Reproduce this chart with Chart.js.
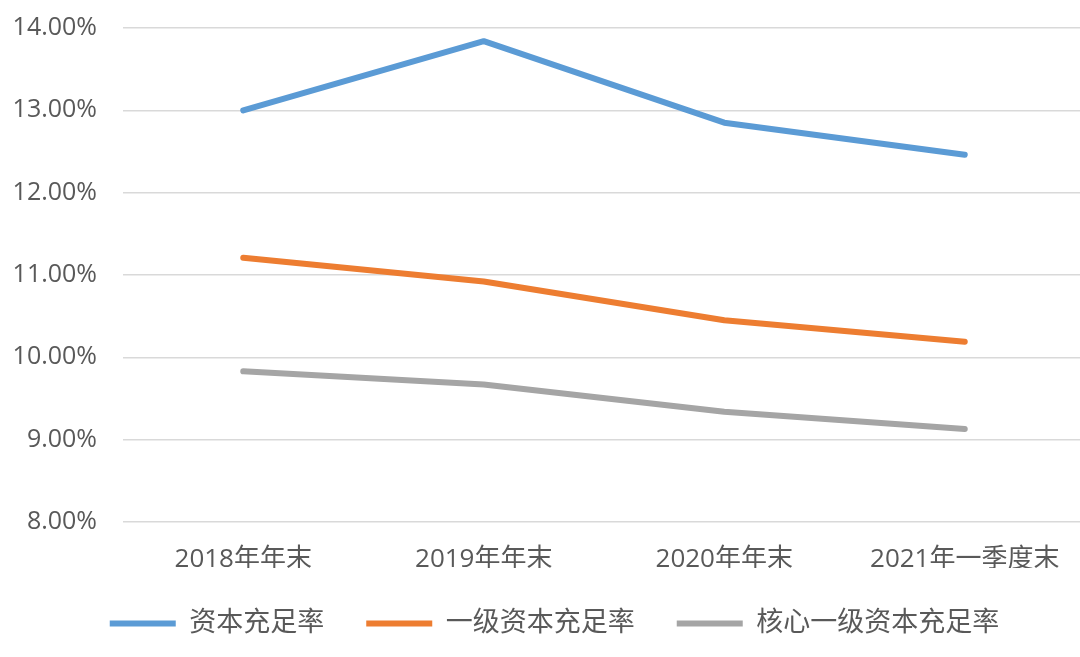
<!DOCTYPE html>
<html>
<head>
<meta charset="utf-8">
<script src="https://cdn.jsdelivr.net/npm/chart.js@4/dist/chart.umd.min.js"></script>
<style>
  html, body { margin: 0; padding: 0; background: #fff; overflow: hidden; }
</style>
</head>
<body>
<canvas id="myChart" width="1088" height="657"></canvas>
<script>
const categories = ['2018年年末', '2019年年末', '2020年年末', '2021年一季度末'];
const seriesNames = ['资本充足率', '一级资本充足率', '核心一级资本充足率'];
const capitalRatio = [13.00, 13.84, 12.85, 12.46];
const tier1Ratio = [11.21, 10.92, 10.45, 10.19];
const coreTier1Ratio = [9.83, 9.67, 9.34, 9.13];
const seriesColors = ['#5B9BD5', '#ED7D31', '#A5A5A5'];

const fontFamily = "'Open Sans', 'Noto Sans CJK SC', sans-serif";
const textColor = '#595959';

const ctx = document.getElementById('myChart').getContext('2d');

const makeSet = (i, values) => ({
    label: seriesNames[i],
    data: values,
    borderColor: seriesColors[i],
    backgroundColor: seriesColors[i],
    borderWidth: 6,
    borderCapStyle: 'round',
    borderJoinStyle: 'round',
    pointRadius: 0,
    pointHoverRadius: 0,
    tension: 0,
    fill: false
});

// nudge the legend a bit to the right, like the original
const legendShift = {
    id: 'legendShift',
    afterLayout(chart) {
        chart.legend.left += 12;
        chart.legend.right += 12;
    }
};

const myChart = new Chart(ctx, {
    type: 'line',
    data: {
        labels: categories,
        datasets: [
            makeSet(0, capitalRatio),
            makeSet(1, tier1Ratio),
            makeSet(2, coreTier1Ratio)
        ]
    },
    plugins: [legendShift],
    options: {
        responsive: false,
        animation: false,
        layout: {
            padding: { top: 28, right: 3, left: 0, bottom: 10 }
        },
        plugins: {
            tooltip: { enabled: false },
            legend: {
                position: 'bottom',
                labels: {
                    usePointStyle: true,
                    pointStyle: 'line',
                    pointStyleWidth: 66,
                    padding: 42,
                    color: textColor,
                    font: { family: fontFamily, size: 27 }
                }
            }
        },
        scales: {
            x: {
                offset: true,
                afterFit: (axis) => {
                    axis.height = 46;
                    axis.paddingLeft = 0;
                    axis.paddingRight = 0;
                },
                grid: { display: false },
                border: { display: false },
                ticks: {
                    color: textColor,
                    padding: 14,
                    maxRotation: 0,
                    font: { family: fontFamily, size: 26 }
                }
            },
            y: {
                min: 8,
                max: 14,
                afterFit: (axis) => {
                    axis.width = 123;
                    axis.paddingTop = 0;
                    axis.paddingBottom = 0;
                },
                grid: { color: '#D9D9D9', lineWidth: 1.5, drawTicks: false },
                border: { display: false },
                ticks: {
                    stepSize: 1,
                    padding: 26,
                    color: textColor,
                    font: { family: fontFamily, size: 25 },
                    callback: (v) => v.toFixed(2) + '%'
                }
            }
        }
    }
});
</script>
</body>
</html>
